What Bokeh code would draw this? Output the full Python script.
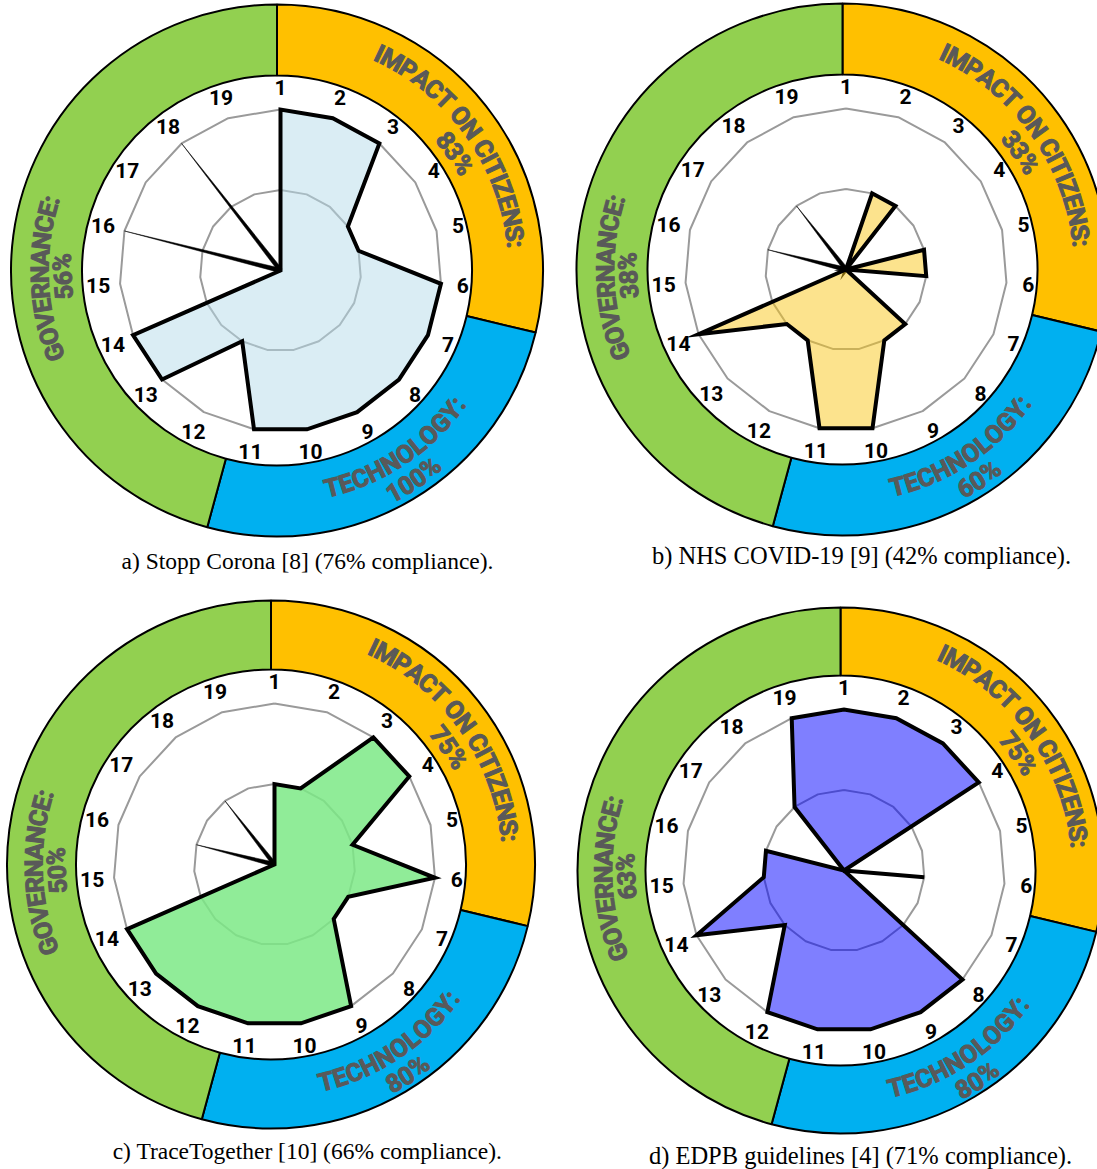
import numpy as np
from bokeh.plotting import figure
from bokeh.models import Range1d
from bokeh.embed import file_html
from bokeh.resources import INLINE
from bokeh.core.properties import value

# ---------------- data ----------------
axis_labels = [str(i) for i in range(1, 20)]

stopp_corona   = [1, 1, 1, .5, .5, 1, 1, 1, 1, 1, 1, .5, 1, 1, 0, 1, 0, 1, 0]
nhs_covid      = [0, .5, .5, 0, .5, .5, 0, .5, .5, 1, 1, .5, .5, 1, 0, .5, 0, .5, 0]
trace_together = [.5, .5, 1, 1, .5, 1, .5, .5, 1, 1, 1, 1, 1, 1, 0, .5, 0, .5, 0]
edpb           = [1, 1, 1, 1, 0, .5, 0, 1, 1, 1, 1, 1, .5, 1, .5, .5, 0, .5, 1]

section_names = ["IMPACT ON CITIZENS:", "TECHNOLOGY:", "GOVERNANCE:"]
scores_a = ["83%", "100%", "56%"]
scores_b = ["33%", "60%", "38%"]
scores_c = ["75%", "80%", "50%"]
scores_d = ["75%", "80%", "63%"]

captions = [
    "a) Stopp Corona [8] (76% compliance).",
    "b) NHS COVID-19 [9] (42% compliance).",
    "c) TraceTogether [10] (66% compliance).",
    "d) EDPB guidelines [4] (71% compliance).",
]

# ---------------- styles / layout ----------------
fills = [("#B5DBE9", 0.5), ("#F9C71B", 0.5), ("#7CE986", 0.85), ("#0000FF", 0.5)]
spike_taper = [True, True, True, False]
centers = [(280, 270), (845.5, 269), (274, 864), (843.5, 870)]   # image px
ring_outer = [266, 266, 264, 263]
ring_inner = 195
caption_pos = [(307, 560, 23.5), (861, 555, 24.5), (307, 1150, 23.5), (860, 1155, 24.5)]

R_FULL = 161
R_LABEL = 183
SEG_COLORS = ["#FFC000", "#00B0F0", "#92D050"]
B1, B2 = -13.5, -105.2   # segment boundaries (deg)
TEXT_COLOR = "#595959"
RING_FONT = "Roboto"
RING_FS = 25

# approximate advance widths (em) of a bold grotesque
CW = {' ': .248, ':': .262, '%': .732, 'A': .658, 'C': .643, 'E': .560, 'G': .671,
      'H': .696, 'I': .277, 'L': .540, 'M': .862, 'N': .696, 'O': .674, 'P': .633,
      'R': .621, 'S': .605, 'T': .603, 'V': .645, 'Y': .607, 'Z': .599}
for d in "0123456789":
    CW[d] = .5615

W, H = 1097, 1169
p = figure(width=W, height=H, x_range=Range1d(0, W), y_range=Range1d(-H, 0),
           output_backend="svg", toolbar_location=None, min_border=0,
           x_axis_location=None, y_axis_location=None)
p.grid.visible = False
p.outline_line_color = None
p.background_fill_color = "white"
p.border_fill_color = "white"


def arc_text(text, cx, cy, r, theta_deg, clockwise, fs):
    widths = [CW.get(ch, .6) * fs for ch in text]
    total = sum(widths)
    s = -total / 2
    xs, ys, angs, chars = [], [], [], []
    for ch, w in zip(text, widths):
        sc = s + w / 2
        s += w
        if clockwise:
            th = np.radians(theta_deg) - sc / r
            rot = th - np.pi / 2
        else:
            th = np.radians(theta_deg) + sc / r
            rot = th + np.pi / 2
        xs.append(cx + r * np.cos(th))
        ys.append(cy + r * np.sin(th))
        angs.append(rot)
        chars.append(ch)
    p.text(x=xs, y=ys, text=chars, angle=angs, text_align="center", text_baseline="middle",
           text_font=value(RING_FONT), text_font_style="bold",
           text_font_size=f"{fs}px", text_color=TEXT_COLOR,
           text_outline_color=TEXT_COLOR)


n = len(axis_labels)
angles = np.radians(90 - np.arange(n) * 360.0 / n)
datasets = [stopp_corona, nhs_covid, trace_together, edpb]
all_scores = [scores_a, scores_b, scores_c, scores_d]

for k in range(4):
    icx, icy = centers[k]
    cx, cy = icx, -icy
    rcx, rcy = cx - 3.5, cy
    ro = ring_outer[k]
    # ring segments
    seg_ranges = [(B1, 90), (B2, B1), (90, B2 + 360)]
    for (a0, a1), col in zip(seg_ranges, SEG_COLORS):
        p.annular_wedge(x=rcx, y=rcy, inner_radius=ring_inner, outer_radius=ro,
                        start_angle=np.radians(a0), end_angle=np.radians(a1),
                        fill_color=col, line_color="black", line_width=2)
    # ring texts
    sc = all_scores[k]
    arc_text(section_names[0], rcx, rcy, 240, 35.5, True, RING_FS)
    arc_text(sc[0], rcx, rcy, 214, 33.3, True, RING_FS)
    arc_text(section_names[1], rcx, rcy, 224, -56.5, False, RING_FS)
    arc_text(sc[1], rcx, rcy, 250, -56.9, False, RING_FS)
    arc_text(section_names[2], rcx, rcy, 237, 182.0, True, RING_FS)
    arc_text(sc[2], rcx, rcy, 215, 181.5, True, RING_FS)

    # grid polygons
    for frac in (0.5, 1.0):
        gx = list(cx + frac * R_FULL * np.cos(angles)) + [cx + frac * R_FULL * np.cos(angles[0])]
        gy = list(cy + frac * R_FULL * np.sin(angles)) + [cy + frac * R_FULL * np.sin(angles[0])]
        p.line(gx, gy, line_color="#9A9A9A", line_width=2)

    vals = datasets[k]
    fc, fa = fills[k]
    nz = [v > 0 for v in vals]
    # runs of consecutive nonzero values (cyclic)
    start_idx = next(i for i in range(n) if not nz[i])
    runs, cur = [], []
    for j in range(1, n + 1):
        i = (start_idx + j) % n
        if nz[i]:
            cur.append(i)
        else:
            if cur:
                runs.append(cur)
            cur = []
    if cur:
        runs.append(cur)
    for run in runs:
        if len(run) == 1:
            i = run[0]
            tx = cx + vals[i] * R_FULL * np.cos(angles[i])
            ty = cy + vals[i] * R_FULL * np.sin(angles[i])
            if spike_taper[k]:
                nx, ny = -np.sin(angles[i]) * 2.2, np.cos(angles[i]) * 2.2
                p.patch([cx + nx, tx, cx - nx], [cy + ny, ty, cy - ny],
                        fill_color="black", line_color="black", line_width=0.5)
            else:
                p.line([cx, tx], [cy, ty], line_color="black", line_width=4, line_cap="butt")
        else:
            px = [cx] + [cx + vals[i] * R_FULL * np.cos(angles[i]) for i in run] + [cx]
            py = [cy] + [cy + vals[i] * R_FULL * np.sin(angles[i]) for i in run] + [cy]
            p.patch(px, py, fill_color=fc, fill_alpha=fa, line_color="black",
                    line_width=4, line_join="miter")

    # axis labels
    lx = cx + R_LABEL * np.cos(angles)
    ly = cy + R_LABEL * np.sin(angles)
    p.text(x=list(lx), y=list(ly), text=axis_labels, text_align="center", text_baseline="middle",
           text_font=value("Roboto"), text_font_style="bold", text_font_size="21px",
           text_color="black")

    # caption
    capx, capy, capfs = caption_pos[k]
    p.text(x=[capx], y=[-capy], text=[captions[k]], text_align="center", text_baseline="middle",
           text_font=value("Liberation Serif"), text_font_size=f"{capfs}px", text_color="black")

open("out.html", "w").write(file_html(p, INLINE))
